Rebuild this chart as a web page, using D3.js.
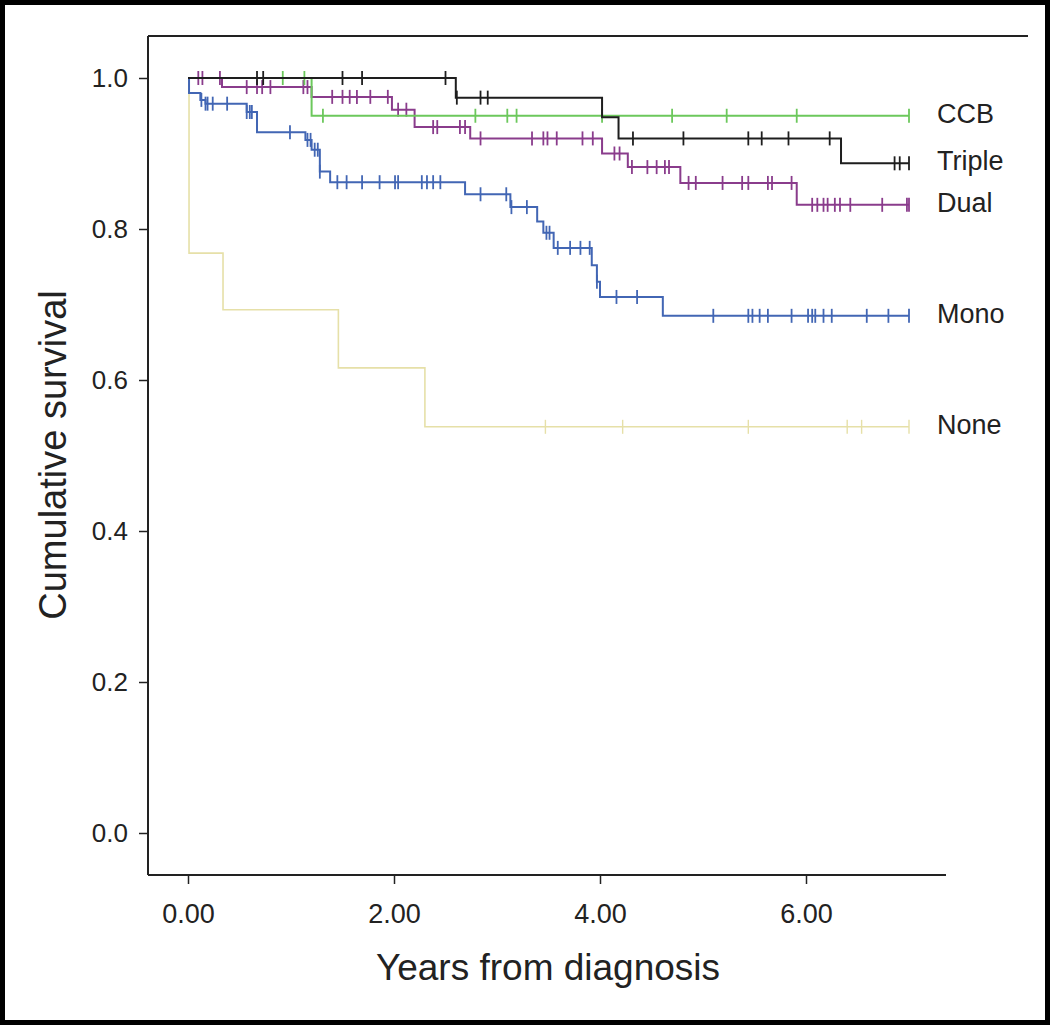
<!DOCTYPE html>
<html><head><meta charset="utf-8">
<script src="https://cdn.jsdelivr.net/npm/d3@7"></script>
<style>body{margin:0;background:#fff}svg{display:block}</style>
</head><body>
<script>
const seriesNames = ["CCB","Triple","Dual","Mono","None"];
const seriesColors = ["#6cc85c","#1e1e1e","#8a3c8c","#4266b4","#e6e0a8"];
// step points: [time, survival after drop]
const ccbSteps = [[0,1],[1.20,0.95]];
const ccbCensor = [0.92,1.13,1.31,2.79,3.10,3.19,4.02,4.70,5.23,5.91,7.0];
const tripleSteps = [[0,1],[2.60,0.974],[4.02,0.948],[4.18,0.92],[6.34,0.887]];
const tripleCensor = [0.67,0.73,1.50,1.69,2.50,2.61,2.84,2.91,4.32,4.81,5.44,5.57,5.83,6.23,6.86,6.91,7.0];
const dualSteps = [[0,1],[0.33,0.988],[1.20,0.975],[1.98,0.958],[2.20,0.935],[2.74,0.92],[4.02,0.90],[4.27,0.882],[4.78,0.861],[5.91,0.832]];
const dualCensor = [0.10,0.14,0.31,0.57,0.67,0.72,0.80,1.12,1.16,1.40,1.50,1.57,1.64,1.77,1.94,2.04,2.12,2.38,2.42,2.64,2.69,2.84,3.34,3.45,3.49,3.58,3.83,3.93,4.14,4.19,4.31,4.46,4.55,4.63,4.67,4.86,4.93,5.19,5.38,5.44,5.63,5.67,5.86,6.06,6.11,6.17,6.21,6.28,6.33,6.43,6.74,6.98,7.0];
const monoSteps = [[0,1],[0.01,0.98],[0.12,0.971],[0.17,0.966],[0.57,0.955],[0.67,0.928],[1.14,0.918],[1.20,0.905],[1.28,0.876],[1.38,0.862],[2.69,0.846],[3.13,0.829],[3.39,0.81],[3.45,0.795],[3.55,0.775],[3.92,0.752],[3.97,0.73],[4.00,0.71],[4.61,0.685]];
const monoCensor = [0.13,0.17,0.19,0.24,0.38,0.57,0.60,0.62,0.99,1.16,1.19,1.23,1.26,1.28,1.45,1.54,1.69,1.86,2.01,2.04,2.27,2.32,2.38,2.45,2.84,3.09,3.14,3.29,3.48,3.51,3.59,3.71,3.81,3.90,3.97,4.16,4.36,5.10,5.44,5.48,5.55,5.63,5.86,6.02,6.06,6.09,6.17,6.25,6.59,6.80,7.0];
const noneSteps = [[0,1],[0.01,0.768],[0.34,0.693],[1.46,0.616],[2.30,0.538]];
const noneCensor = [3.47,4.22,5.44,6.40,6.54,7.0];
const xTicks = [0,2,4,6];
const yTicks = [0,0.2,0.4,0.6,0.8,1.0];
const endTime = 7.0;

const allSteps = [ccbSteps,tripleSteps,dualSteps,monoSteps,noneSteps];
const allCensor = [ccbCensor,tripleCensor,dualCensor,monoCensor,noneCensor];

const W=1050,H=1025;
const svg=d3.select("body").append("svg").attr("width",W).attr("height",H);
svg.append("rect").attr("x",2.5).attr("y",2.5).attr("width",W-5).attr("height",H-5)
  .attr("fill","#fff").attr("stroke","#000").attr("stroke-width",5);

const x=d3.scaleLinear().domain([0,2]).range([188,394]);
const y=d3.scaleLinear().domain([0,1]).range([833,78]);
const pLeft=148, pBottom=875, pTop=36, axRight=946, topRight=1028;
const font="'Liberation Sans',Arial,sans-serif";

// frame
svg.append("line").attr("x1",pLeft).attr("x2",topRight).attr("y1",pTop).attr("y2",pTop).attr("stroke","#222").attr("stroke-width",2);
const yAxis=d3.axisLeft(y).tickValues(yTicks).tickFormat(d3.format(".1f")).tickSize(9).tickPadding(11);
const gy=svg.append("g").attr("transform",`translate(${pLeft},0)`).call(yAxis);
gy.select(".domain").remove();
gy.append("line").attr("x1",0).attr("x2",0).attr("y1",pTop).attr("y2",pBottom).attr("stroke","#222").attr("stroke-width",2);
gy.selectAll(".tick line").attr("stroke","#222").attr("stroke-width",1.5);
gy.selectAll(".tick text").attr("font-family",font).attr("font-size",26).attr("fill","#222");

const xAxis=d3.axisBottom(x).tickValues(xTicks).tickFormat(d3.format(".2f")).tickSize(9).tickPadding(20);
const gx=svg.append("g").attr("transform",`translate(0,${pBottom})`).call(xAxis);
gx.select(".domain").remove();
gx.append("line").attr("x1",pLeft).attr("x2",axRight).attr("y1",0).attr("y2",0).attr("stroke","#222").attr("stroke-width",2);
gx.selectAll(".tick line").attr("stroke","#222").attr("stroke-width",1.5);
gx.selectAll(".tick text").attr("font-family",font).attr("font-size",27).attr("fill","#222");

// curves
const line=d3.line().x(d=>x(d[0])).y(d=>y(d[1])).curve(d3.curveStepAfter);
function survAt(steps,t){let v=1;for(const s of steps){if(s[0]<=t)v=s[1];}return v;}
const order=[4,3,2,0,1];
order.forEach(i=>{
  const steps=allSteps[i];
  const pts=steps.concat([[endTime,steps[steps.length-1][1]]]);
  const g=svg.append("g");
  g.append("path").attr("d",line(pts)).attr("fill","none").attr("stroke",seriesColors[i]).attr("stroke-width",i===4?1.6:2);
  g.selectAll("line.c").data(allCensor[i]).enter().append("line")
    .attr("x1",d=>x(d)).attr("x2",d=>x(d))
    .attr("y1",d=>y(survAt(steps,d))-7).attr("y2",d=>y(survAt(steps,d))+7)
    .attr("stroke",seriesColors[i]).attr("stroke-width",i===4?1.4:1.8);
  svg.append("text").attr("x",937).attr("y",y(steps[steps.length-1][1]))
    .attr("dominant-baseline","middle").attr("font-family",font)
    .attr("font-size",27).attr("fill","#222").text(seriesNames[i]);
});

svg.append("text").attr("transform","translate(66,455) rotate(-90)").attr("text-anchor","middle")
  .attr("font-family",font).attr("font-size",38).attr("fill","#222").text("Cumulative survival");
svg.append("text").attr("x",548).attr("y",980).attr("text-anchor","middle")
  .attr("font-family",font).attr("font-size",37).attr("fill","#222").text("Years from diagnosis");
</script>
</body></html>
